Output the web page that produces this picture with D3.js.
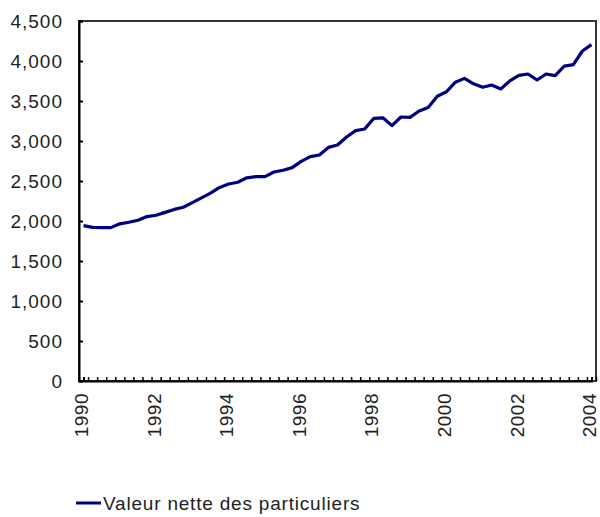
<!DOCTYPE html>
<html><head><meta charset="utf-8">
<script src="https://cdn.jsdelivr.net/npm/d3@7"></script>
<style>body{margin:0;background:#fff;} svg{display:block;font-family:"Liberation Sans",Arial,sans-serif;}</style>
</head><body>
<svg id="c" width="600" height="517"></svg>
<script>
// Quarterly data, 1990Q1 - 2004Q1
const quarters = d3.range(57).map(i => 1990 + i / 4);
const netWorth = [
  1942, 1920, 1917, 1917, 1965, 1984, 2010, 2055,
  2072, 2108, 2145, 2172, 2230, 2290, 2348, 2420,
  2462, 2485, 2540, 2554, 2554, 2612, 2635, 2667,
  2745, 2805, 2825, 2920, 2950, 3050, 3130, 3150,
  3283, 3290, 3192, 3300, 3295, 3375, 3420, 3560,
  3615, 3735, 3783, 3715, 3672, 3700, 3650, 3752,
  3820, 3837, 3762, 3838, 3817, 3935, 3955, 4125,
  4205
];
const yTicks = [0, 500, 1000, 1500, 2000, 2500, 3000, 3500, 4000, 4500];
const xLabels = ["1990", "1992", "1994", "1996", "1998", "2000", "2002", "2004"];
const seriesName = "Valeur nette des particuliers";

const svg = d3.select("#c");
const L = 79, R = 596, T = 21, B = 381;
const step = (R - L) / quarters.length;
const x = d3.scaleLinear().domain([1990, 2004]).range([L + step / 2, R - step / 2]);
const y = d3.scaleLinear().domain([0, 4500]).range([B, T]);
const fmt = d3.format(",");

// box
svg.append("rect").attr("x", L).attr("y", T).attr("width", R - L).attr("height", B - T)
  .attr("fill", "none").attr("stroke", "#333").attr("stroke-width", 2);

// y axis
const ya = svg.append("g").attr("transform", `translate(${L},0)`)
  .call(d3.axisRight(y).tickValues(yTicks).tickSize(4).tickFormat(""));
ya.select(".domain").attr("stroke", "#000").attr("stroke-width", 2);
ya.selectAll(".tick line").attr("stroke", "#000").attr("stroke-width", 2);
svg.append("g").selectAll("text").data(yTicks).join("text")
  .attr("x", 63).attr("y", d => y(d)).attr("dy", "0.35em")
  .attr("text-anchor", "end").attr("font-size", 19).attr("letter-spacing", 1)
  .attr("fill", "#222").text(d => fmt(d));

// x axis with quarterly minor ticks at category boundaries
const qTicks = d3.range(quarters.length + 1).map(i => 1990 - 0.125 + i / 4);
const xa = svg.append("g").attr("transform", `translate(0,${B})`)
  .call(d3.axisTop(x).tickValues(qTicks).tickSize(4).tickFormat(""));
xa.select(".domain").attr("stroke", "#000").attr("stroke-width", 2);
xa.selectAll(".tick line").attr("stroke", "#000").attr("stroke-width", 1.5);

svg.append("g").selectAll("text").data(xLabels).join("text")
  .attr("transform", d => `translate(${x(+d) - 1},393) rotate(-90)`)
  .attr("dy", "0.3em").attr("text-anchor", "end").attr("letter-spacing", 0.5)
  .attr("font-size", 19).attr("fill", "#222").text(d => d);

// line
const line = d3.line().x((d, i) => x(quarters[i])).y(d => y(d));
svg.append("path").datum(netWorth).attr("d", line)
  .attr("fill", "none").attr("stroke", "#000080").attr("stroke-width", 3.2)
  .attr("stroke-linejoin", "round");

// legend
svg.append("line").attr("x1", 76).attr("x2", 101).attr("y1", 503).attr("y2", 503)
  .attr("stroke", "#000080").attr("stroke-width", 3);
svg.append("text").attr("x", 103).attr("y", 503).attr("dy", "0.35em")
  .attr("font-size", 19).attr("letter-spacing", 0.8).attr("fill", "#222").text(seriesName);
</script>
</body></html>
